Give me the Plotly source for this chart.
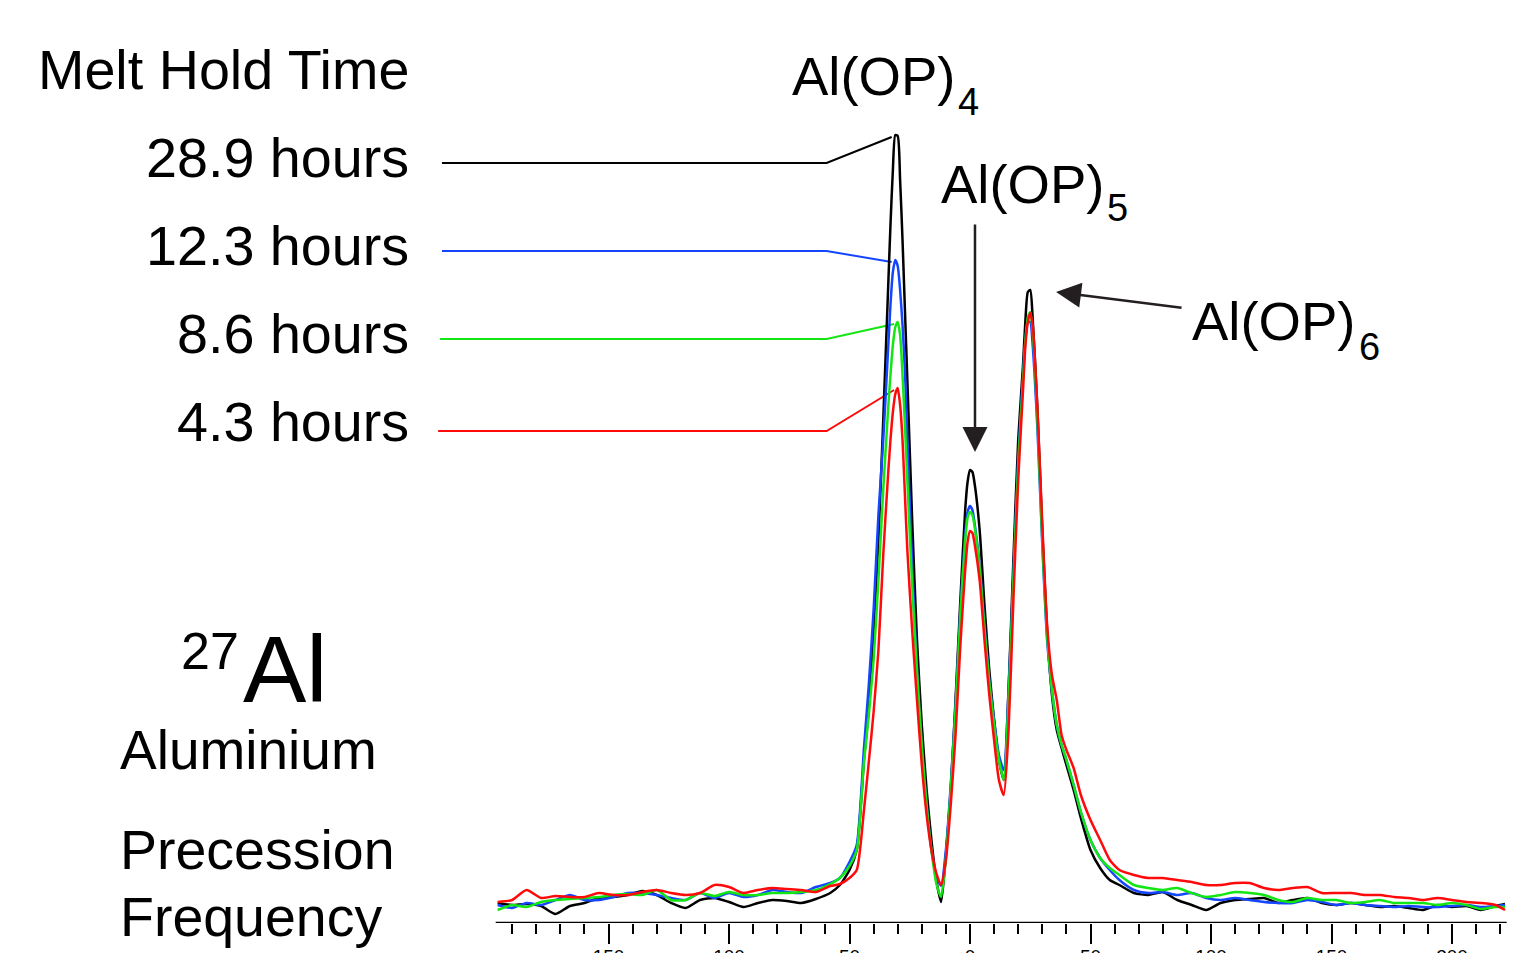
import plotly.graph_objects as go

# ---------------- data (chemical shift, arbitrary intensity) ----------------
shift = [-196, -190, -184, -178, -172, -166, -160, -154, -148, -142, -136, -130, -124, -118,
         -112, -106, -100, -94, -88, -82, -76, -70, -64, -58, -54, -50, -47, -44, -42, -40,
         -38, -36, -34, -33, -32, -31, -30, -29, -28, -27, -26, -24, -22, -20, -18, -16,
         -14, -12, -10, -8, -6, -4, -2, -1, 0, 1, 2, 4, 6, 8, 10, 12, 14, 16, 18, 20, 22,
         23, 24, 25, 26, 28, 30, 32, 34, 36, 38, 40, 43, 46, 50, 54, 58, 62, 68, 74, 80,
         86, 92, 98, 104, 110, 116, 122, 128, 134, 140, 146, 152, 158, 164, 170, 176, 182,
         188, 194, 200, 206, 212, 218, 222]

int_289h = [2.0, 1.8, 1.9, 1.7, 0.9, 1.7, 2.0, 2.5, 2.6, 2.8, 3.2, 2.8, 2.0, 1.5,
            2.3, 2.5, 2.1, 1.6, 2.0, 2.3, 2.2, 2.0, 2.4, 3.0, 3.8, 5.3, 7.3, 16.3, 21.5, 29.3,
            38.3, 50.3, 63.3, 69.8, 75.3, 78.8, 78.7, 74.3, 68.3, 61.3, 54.3, 40.3, 28.3, 19.8, 13.3, 8.3,
            4.3, 2.1, 6.8, 13.3, 22.3, 32.3, 41.3, 44.1, 45.3, 45.1, 43.8, 39.3, 31.8, 25.3, 20.3, 16.3, 14.3, 23.3, 36.3, 48.3, 55.8,
            60.3, 63.1, 63.3, 60.5, 51.3, 39.3, 29.3, 22.8, 19.3, 17.5, 15.8, 13.3, 10.5, 7.3, 5.5, 4.3, 3.8, 3.0, 2.8, 3.1,
            2.3, 1.8, 1.3, 2.0, 2.3, 2.4, 2.5, 2.0, 2.3, 2.5, 2.0, 1.8, 2.0, 1.8, 1.6, 1.7, 1.5,
            1.3, 1.8, 1.6, 1.7, 1.3, 1.7, 1.9]

int_123h = [1.8, 1.5, 2.0, 1.8, 2.3, 2.8, 2.3, 2.3, 2.6, 3.0, 3.0, 2.8, 2.5, 2.3,
            3.0, 2.5, 3.0, 2.6, 2.8, 3.3, 3.1, 3.0, 3.6, 4.0, 4.5, 6.1, 7.8, 17.5, 23.8, 31.3,
            40.8, 48.3, 57.3, 61.8, 65.1, 66.3, 65.7, 63.3, 59.8, 55.3, 48.3, 35.8, 25.3, 17.3, 11.8, 7.3,
            4.8, 3.7, 7.3, 13.8, 21.8, 31.3, 38.8, 41.1, 41.7, 41.3, 39.8, 35.8, 29.8, 24.3, 20.3, 16.8, 15.3, 23.3, 34.8, 46.3, 54.8,
            58.3, 60.1, 60.1, 57.8, 49.3, 37.8, 28.3, 23.3, 19.8, 17.8, 16.3, 13.8, 11.1, 8.3, 6.5, 5.3, 4.3, 3.3, 3.0, 3.1,
            2.8, 3.0, 2.5, 2.3, 2.5, 2.3, 2.1, 2.0, 2.0, 2.3, 2.1, 1.8, 2.0, 1.8, 1.7, 1.6, 1.7,
            1.6, 1.6, 1.7, 1.8, 1.6, 1.7, 1.8]

int_86h = [1.3, 1.8, 1.6, 2.1, 2.3, 2.4, 2.5, 2.6, 2.8, 2.9, 2.8, 3.3, 2.3, 2.3,
           3.0, 2.7, 3.1, 2.8, 2.8, 3.0, 3.0, 3.1, 3.3, 3.9, 4.5, 5.7, 7.3, 16.1, 20.8, 26.3,
           34.3, 43.3, 51.3, 54.8, 57.8, 59.6, 60.1, 58.8, 54.8, 49.8, 44.3, 33.8, 25.3, 17.8, 11.8, 7.3,
           4.0, 2.6, 6.5, 13.3, 21.3, 30.8, 38.3, 40.5, 41.1, 40.8, 39.5, 35.5, 29.5, 24.1, 19.8, 16.3, 14.3, 22.3, 34.3, 45.8, 54.3,
           58.3, 60.5, 61.1, 59.3, 50.3, 38.3, 28.8, 23.3, 19.8, 17.8, 16.3, 13.8, 11.1, 8.3, 6.5, 5.5, 4.8, 3.8, 3.5, 3.3,
           3.5, 3.0, 2.6, 2.8, 3.1, 3.0, 2.8, 2.3, 2.1, 2.5, 2.3, 2.3, 2.0, 2.1, 2.3, 2.0, 2.0,
           2.0, 1.8, 2.0, 1.8, 1.4, 1.6, 1.6]

int_43h = [2.1, 2.3, 3.3, 2.5, 2.7, 2.6, 2.6, 3.0, 2.8, 2.8, 3.1, 3.3, 3.0, 2.8,
           3.0, 3.8, 3.6, 3.0, 3.3, 3.5, 3.4, 3.3, 3.1, 3.7, 3.9, 4.5, 5.3, 11.3, 16.1, 21.1,
           27.3, 36.8, 44.8, 48.3, 51.1, 52.9, 53.5, 51.8, 48.3, 42.8, 37.3, 29.3, 22.3, 15.8, 10.8, 7.3,
           5.0, 3.8, 6.3, 11.8, 18.8, 27.8, 35.3, 38.1, 39.2, 39.0, 37.8, 34.3, 28.3, 22.8, 18.3, 14.3, 12.8, 19.3, 32.3, 44.3, 53.3,
           57.8, 60.1, 61.0, 59.8, 51.3, 39.8, 29.8, 24.8, 22.3, 18.8, 17.3, 15.5, 12.8, 10.3, 8.3, 6.3, 5.3, 4.8, 4.5, 4.5,
           4.3, 4.1, 3.8, 3.8, 4.0, 4.0, 3.5, 3.3, 3.5, 3.6, 3.0, 3.0, 3.0, 2.8, 2.8, 2.6, 2.5,
           2.3, 2.5, 2.3, 2.1, 2.0, 1.8, 1.3]

series_labels = ["28.9 hours", "12.3 hours", "8.6 hours", "4.3 hours"]
series_values = [int_289h, int_123h, int_86h, int_43h]

tick_values = [-150, -100, -50, 0, 50, 100, 150, 200]
tick_labels = ["150", "100", "50", "0", "50", "100", "150", "200"]
minor_values = [-190, -180, -170, -160, -140, -130, -120, -110, -90, -80, -70, -60, -40, -30,
                -20, -10, 10, 20, 30, 40, 60, 70, 80, 90, 110, 120, 130, 140, 160, 170, 180,
                190, 210, 220]

peak_labels = ["Al(OP)", "Al(OP)", "Al(OP)"]
peak_subs = ["4", "5", "6"]

# ---------------- styles / layout constants ----------------
colors = ["#000000", "#1446ff", "#14e614", "#ff0a0a"]
W, H = 1520, 953
ML, MR, MT, MB = 0, 13, 0, 30
PW, PH = W - ML - MR, H - MT - MB
X_RANGE = [-402.49, 222.82]
Y_RANGE = [0, 92.3]
AXIS_SPAN = [-196.8, 222.7]
FONT = "Arial, 'Liberation Sans', Helvetica, sans-serif"
INK = "#231f20"


def paper_x(px):
    return (px - ML) / PW


def paper_y(py):
    return (H - MB - py) / PH


def text_ann(text, px, baseline, size, xanchor):
    bottom = baseline + 0.212 * size + 2
    return dict(text=text, x=paper_x(px), y=paper_y(bottom), xref="paper", yref="paper",
                xanchor=xanchor, yanchor="bottom", showarrow=False,
                font=dict(family=FONT, size=size, color="#000000"))


fig = go.Figure()

# leader lines from legend labels to the Al(OP)4 peak of each series
leader_start = [-219.1, -219.1, -219.9, -220.7]
leader_level = [76.0, 67.2, 58.4, 49.2]
leader_corner = -59.5
for vals, col, xs, yl in zip(series_values, colors, leader_start, leader_level):
    region = [(v, s) for v, s in zip(vals, shift) if -40 <= s <= -20]
    pv, ps = max(region)
    fig.add_trace(go.Scatter(x=[xs, leader_corner, ps - 1.5], y=[yl, yl, pv - 0.2],
                             mode="lines", line=dict(color=col, width=2),
                             hoverinfo="skip", showlegend=False))

for name, vals, col in zip(series_labels, series_values, colors):
    fig.add_trace(go.Scatter(x=shift, y=vals, name=name, mode="lines",
                             line=dict(color=col, width=2.5, shape="spline", smoothing=0.6),
                             showlegend=False))

annotations = []
annotations.append(text_ann("Melt Hold Time", 411, 89, 55.7, "right"))
for lab, bl in zip(series_labels, [177, 265, 353, 441]):
    annotations.append(text_ann(lab, 411, bl, 55.7, "right"))

for lab, sub, (mx, mb), (sx, sb) in zip(peak_labels, peak_subs,
                                         [(789.7, 95), (939, 203), (1189.7, 340)],
                                         [(955.5, 115), (1105, 221), (1357, 360)]):
    annotations.append(text_ann(lab, mx, mb, 54.5, "left"))
    annotations.append(text_ann(sub, sx, sb, 38, "left"))

annotations.append(text_ann("27", 179, 669, 52, "left"))
annotations.append(text_ann("Al", 241, 702, 95, "left"))
annotations.append(text_ann("Aluminium", 118, 769, 55, "left"))
annotations.append(text_ann("Precession", 118, 869, 55.5, "left"))
annotations.append(text_ann("Frequency", 118, 936, 55.5, "left"))

# arrows
annotations.append(dict(text="", x=2.07, y=47.1, ax=2.07, ay=70.0, xref="x", yref="y",
                        axref="x", ayref="y", showarrow=True, arrowhead=2, arrowsize=2.0,
                        arrowwidth=2.5, arrowcolor=INK, standoff=0, startstandoff=0))
annotations.append(dict(text="", x=35.7, y=63.1, ax=88.4, ay=61.5, xref="x", yref="y",
                        axref="x", ayref="y", showarrow=True, arrowhead=2, arrowsize=2.0,
                        arrowwidth=2.5, arrowcolor=INK, standoff=0, startstandoff=0))

shapes = [dict(type="line", xref="x", yref="y", x0=AXIS_SPAN[0], x1=AXIS_SPAN[1],
               y0=Y_RANGE[0], y1=Y_RANGE[0], line=dict(color="#000000", width=2.5))]

fig.update_layout(
    width=W, height=H,
    margin=dict(l=ML, r=MR, t=MT, b=MB, pad=0),
    paper_bgcolor="#ffffff", plot_bgcolor="#ffffff",
    showlegend=False,
    annotations=annotations,
    shapes=shapes,
    xaxis=dict(range=X_RANGE, showgrid=False, zeroline=False, showline=False,
               tickmode="array", tickvals=tick_values, ticktext=tick_labels,
               ticks="outside", ticklen=20, tickwidth=2, tickcolor="#000000",
               ticklabelstandoff=-4,
               tickfont=dict(family=FONT, size=19, color="#000000"),
               minor=dict(tickmode="array", tickvals=minor_values, ticks="outside",
                          ticklen=10, tickwidth=2, tickcolor="#000000", showgrid=False),
               automargin=False, fixedrange=True),
    yaxis=dict(range=Y_RANGE, visible=False, fixedrange=True),
)

fig.write_html("out.html", config={"displayModeBar": False},
               post_script="document.body.style.margin='0px';document.body.style.overflow='hidden';")
